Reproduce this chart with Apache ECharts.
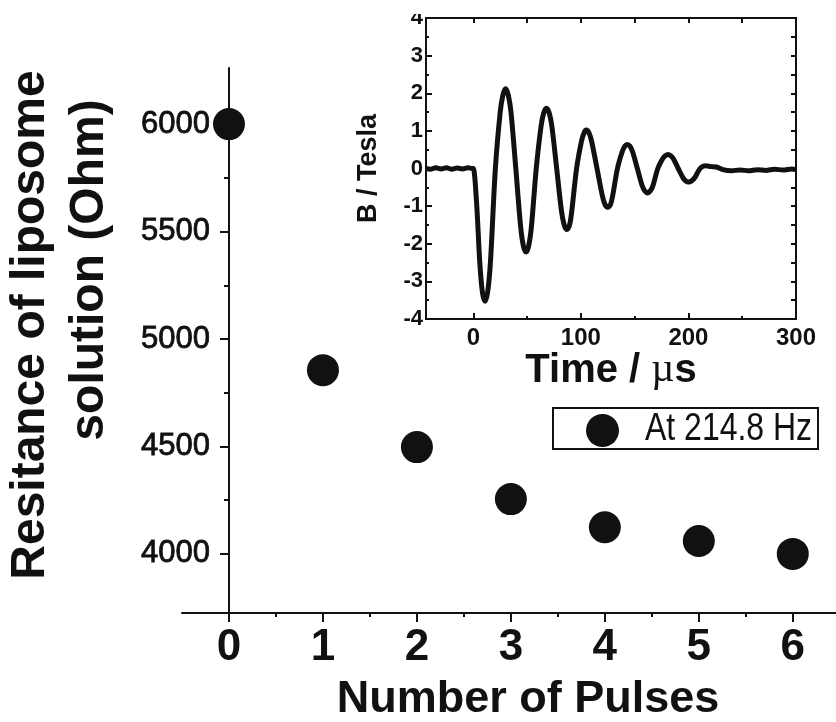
<!DOCTYPE html>
<html>
<head>
<meta charset="utf-8">
<script src="https://cdn.jsdelivr.net/npm/echarts@6/dist/echarts.min.js"></script>
<style>html,body{margin:0;padding:0;background:#fff;}#c{width:836px;height:722px;}</style>
</head>
<body>
<div id="c"></div>
<script>
// ---- Main chart data ----
const pulses = [0, 1, 2, 3, 4, 5, 6];
const resistance = [6000, 4855, 4497, 4255, 4124, 4060, 4000];
const mainXTicks = [0, 1, 2, 3, 4, 5, 6];
const mainXMinor = [0.5, 1.5, 2.5, 3.5, 4.5, 5.5];
const mainYTicks = [4000, 4500, 5000, 5500, 6000];
const mainYMinor = [4250, 4750, 5250, 5750];
const legendLabel = 'At 214.8 Hz';

// ---- Inset data (time in µs, B in Tesla) ----
const insetTime = [-44, -40, -35, -30, -25, -20, -15, -10, -5, -1, 0, 3, 6, 8.5, 11, 13.5, 16, 20.5, 25, 27.5, 30, 32.5, 35, 39.5, 44, 46.5, 49, 51.5, 54, 58.5, 63, 65.5, 68, 70.5, 73, 77.5, 82, 84.5, 87, 89.5, 91.5, 96, 100.5, 103, 105, 107.5, 110, 115, 120, 122.5, 125, 127.5, 129.5, 134, 138.5, 141, 143, 145.5, 148, 152.5, 157, 159.5, 162, 164.5, 167, 171.5, 176, 178.5, 181, 183.5, 186, 190.5, 195, 197.5, 200, 203, 206, 209, 212, 216, 221, 226, 232, 240, 248, 256, 264, 272, 280, 288, 296, 300];
const insetB = [0.0, -0.02, 0.02, -0.01, 0.02, -0.02, 0.01, -0.01, 0.02, 0.0, 0.0, -0.9, -2.5, -3.3, -3.53, -3.25, -2.45, 0.0, 1.5, 1.95, 2.12, 1.95, 1.5, 0.0, -1.55, -2.05, -2.22, -2.05, -1.55, 0.0, 1.13, 1.48, 1.6, 1.48, 1.13, 0.0, -1.14, -1.5, -1.62, -1.5, -1.14, 0.0, 0.72, 0.95, 1.02, 0.95, 0.72, 0.0, -0.73, -0.96, -1.03, -0.96, -0.73, 0.0, 0.45, 0.6, 0.64, 0.6, 0.45, 0.0, -0.46, -0.6, -0.65, -0.6, -0.46, 0.0, 0.26, 0.34, 0.37, 0.34, 0.26, 0.0, -0.25, -0.33, -0.36, -0.33, -0.24, -0.08, 0.03, 0.07, 0.05, 0.04, -0.03, -0.06, -0.04, -0.06, -0.03, -0.05, -0.02, -0.04, -0.01, -0.03];
const insetXTicks = [0, 100, 200, 300];
const insetXMinor = [50, 150, 250];
const insetYTicks = [-4, -3, -2, -1, 0, 1, 2, 3, 4];
const insetYMinor = [-3.5, -2.5, -1.5, -0.5, 0.5, 1.5, 2.5, 3.5];

const INK = '#111';
const FF = 'Liberation Sans, Arial, sans-serif';

const chart = echarts.init(document.getElementById('c'), null, {renderer: 'canvas'});

function tickAxis(base) { return Object.assign({splitLine: {show: false}}, base); }
const plain = v => String(v);

const option = {
  backgroundColor: '#fff',
  animation: false,
  grid: [
    {left: 182, top: 68, width: 654, height: 545, containLabel: false},
    {left: 426, top: 18, width: 370, height: 301, show: true, borderColor: INK, borderWidth: 2, backgroundColor: 'transparent'}
  ],
  xAxis: [
    tickAxis({type: 'value', gridIndex: 0, min: -0.5, max: 6.46, position: 'bottom',
      axisLine: {show: true, onZero: false, lineStyle: {color: INK, width: 2}},
      axisTick: {show: true, customValues: mainXTicks, length: 9, lineStyle: {color: INK, width: 2}},
      axisLabel: {customValues: mainXTicks, formatter: plain, color: INK, fontFamily: FF, fontWeight: 'bold', fontSize: 44, margin: 13}}),
    tickAxis({type: 'value', gridIndex: 0, min: -0.5, max: 6.46, position: 'bottom',
      axisLine: {show: false, onZero: false},
      axisTick: {show: true, customValues: mainXMinor, length: 4, lineStyle: {color: INK, width: 2}},
      axisLabel: {show: false}}),
    tickAxis({type: 'value', gridIndex: 1, min: -44, max: 300, position: 'bottom',
      axisLine: {show: false, onZero: false},
      axisTick: {show: true, inside: true, customValues: insetXTicks, length: 6, lineStyle: {color: INK, width: 2}},
      axisLabel: {customValues: insetXTicks, formatter: plain, color: INK, fontFamily: FF, fontWeight: 'bold', fontSize: 24, margin: 7},
      name: '{a|Time / }{b|µ}{a|s}', nameLocation: 'middle', nameGap: 27,
      nameTextStyle: {color: INK, fontFamily: FF, fontWeight: 'bold', fontSize: 40,
        rich: {a: {fontFamily: FF, fontWeight: 'bold', fontSize: 40, color: INK},
               b: {fontFamily: 'Liberation Serif, serif', fontWeight: 'normal', fontSize: 40, color: INK}}}}),
    tickAxis({type: 'value', gridIndex: 1, min: -44, max: 300, position: 'bottom',
      axisLine: {show: false, onZero: false},
      axisTick: {show: true, inside: true, customValues: insetXMinor, length: 3, lineStyle: {color: INK, width: 2}},
      axisLabel: {show: false}}),
    tickAxis({type: 'value', gridIndex: 1, min: -44, max: 300, position: 'top',
      axisLine: {show: false, onZero: false},
      axisTick: {show: true, inside: true, customValues: insetXTicks.concat(insetXMinor), length: 5, lineStyle: {color: INK, width: 2}},
      axisLabel: {show: false}})
  ],
  yAxis: [
    tickAxis({type: 'value', gridIndex: 0, min: 3725, max: 6261, position: 'left', offset: -47,
      axisLine: {show: true, onZero: false, lineStyle: {color: INK, width: 2}},
      axisTick: {show: true, customValues: mainYTicks, length: 9, lineStyle: {color: INK, width: 2}},
      axisLabel: {customValues: mainYTicks, formatter: plain, color: INK, fontFamily: FF, fontSize: 31, margin: 19,
        textBorderColor: INK, textBorderWidth: 0.8}}),
    tickAxis({type: 'value', gridIndex: 0, min: 3725, max: 6261, position: 'left', offset: -47,
      axisLine: {show: false, onZero: false},
      axisTick: {show: true, customValues: mainYMinor, length: 5, lineStyle: {color: INK, width: 2}},
      axisLabel: {show: false}}),
    tickAxis({type: 'value', gridIndex: 1, min: -4, max: 4, position: 'left',
      axisLine: {show: false, onZero: false},
      axisTick: {show: true, inside: true, customValues: insetYTicks, length: 6, lineStyle: {color: INK, width: 2}},
      axisLabel: {customValues: insetYTicks, formatter: plain, color: INK, fontFamily: FF, fontWeight: 'bold', fontSize: 22, margin: 3},
      name: 'B / Tesla', nameLocation: 'middle', nameGap: 44, nameRotate: 90,
      nameTextStyle: {color: INK, fontFamily: FF, fontWeight: 'bold', fontSize: 27}}),
    tickAxis({type: 'value', gridIndex: 1, min: -4, max: 4, position: 'left',
      axisLine: {show: false, onZero: false},
      axisTick: {show: true, inside: true, customValues: insetYMinor, length: 3, lineStyle: {color: INK, width: 2}},
      axisLabel: {show: false}}),
    tickAxis({type: 'value', gridIndex: 1, min: -4, max: 4, position: 'right',
      axisLine: {show: false, onZero: false},
      axisTick: {show: true, inside: true, customValues: insetYTicks.concat(insetYMinor), length: 5, lineStyle: {color: INK, width: 2}},
      axisLabel: {show: false}})
  ],
  legend: {show: false, data: [legendLabel]},
  series: [
    {name: legendLabel, type: 'scatter', xAxisIndex: 0, yAxisIndex: 0,
      symbol: 'circle', symbolSize: 32, itemStyle: {color: INK, opacity: 1},
      data: pulses.map((p, i) => [p, resistance[i]])},
    {name: 'B', type: 'line', xAxisIndex: 2, yAxisIndex: 2,
      showSymbol: false, smooth: 0.3, clip: true,
      lineStyle: {color: INK, width: 5},
      data: insetTime.map((t, i) => [t, insetB[i]])}
  ],
  graphic: [
    {type: 'text', x: 31, y: 325, rotation: Math.PI / 2, z: 10,
      style: {text: 'Resitance of liposome', fill: INK, font: 'bold 48px ' + FF, textAlign: 'center', textVerticalAlign: 'middle'}},
    {type: 'text', x: 90, y: 270, rotation: Math.PI / 2, z: 10,
      style: {text: 'solution (Ohm)', fill: INK, font: 'bold 48px ' + FF, textAlign: 'center', textVerticalAlign: 'middle'}},
    {type: 'text', x: 528, y: 700, z: 10,
      style: {text: 'Number of Pulses', fill: INK, font: 'bold 45px ' + FF, textAlign: 'center', textVerticalAlign: 'middle'}},
    {type: 'rect', shape: {x: 385, y: 0, width: 38, height: 14}, z: 100, style: {fill: '#fff'}},
    // legend box
    {type: 'group', z: 20, children: [
      {type: 'rect', shape: {x: 553, y: 408, width: 265, height: 41}, style: {fill: '#fff', stroke: INK, lineWidth: 2}},
      {type: 'circle', shape: {cx: 602.5, cy: 430.5, r: 16.5}, style: {fill: INK}},
      {type: 'text', x: 645, y: 429, scaleX: 0.82,
        style: {text: legendLabel, fill: INK, font: '39px ' + FF, textAlign: 'left', textVerticalAlign: 'middle'}}
    ]}
  ]
};
chart.setOption(option);
</script>
</body>
</html>
